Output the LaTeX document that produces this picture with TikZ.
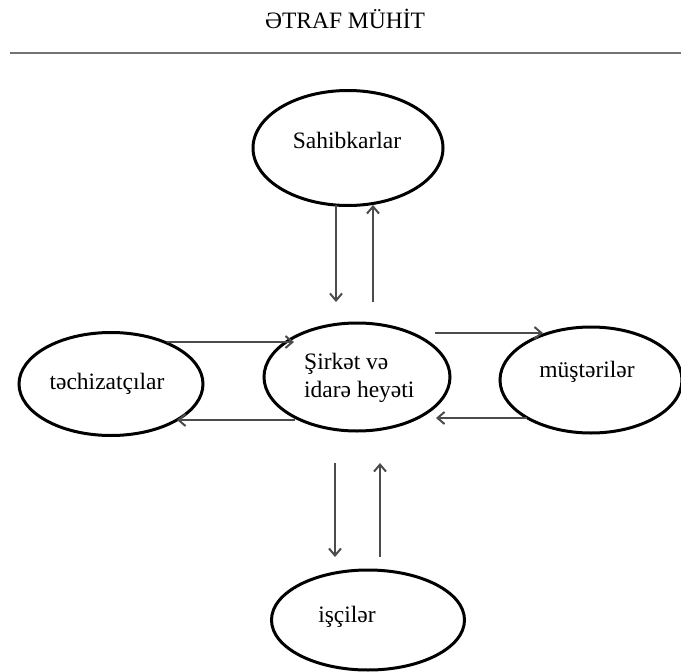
\documentclass[tikz,border=0pt]{standalone}
\usepackage{fontspec}
\setmainfont{Liberation Serif}
\usetikzlibrary{shapes.geometric,arrows.meta}
\begin{document}
\begin{tikzpicture}[x=1pt,y=-1pt,
  ell/.style={draw=black,line width=3pt,ellipse,inner sep=0pt},
  lbl/.style={font=\fontsize{23.5}{27.6}\selectfont,inner sep=0pt,text=black},
  flow/.style={draw=black!70,line width=2pt,-{Straight Barb[length=7pt,width=12pt]}}]
\useasboundingbox[fill=white] (0,0) rectangle (681,672);
% title and rule
\node[lbl] (title) at (345,19) {ƏTRAF MÜHİT};
\coordinate (rl) at (10,53);
\coordinate (rr) at (681,53);
\draw[black!55,line width=2.2pt] (rl) -- (rr);
% ellipses
\node[ell,minimum width=190pt,minimum height=115pt] (S) at (348,148) {};
\node[ell,minimum width=184pt,minimum height=103pt] (T) at (111,384) {};
\node[ell,minimum width=186pt,minimum height=108pt] (C) at (357,377) {};
\node[ell,minimum width=182pt,minimum height=106pt] (M) at (591,380) {};
\node[ell,minimum width=193pt,minimum height=100pt] (I) at (368,620) {};
% texts
\node[lbl] (Stx) at (347,140) {Sahibkarlar};
\node[lbl] (Ttx) at (107,384) {təchizatçılar};
\node[lbl,align=left,anchor=west] (Ctx) at (304,378) {Şirkət və\\idarə heyəti};
\node[lbl] (Mtx) at (587,372) {müştərilər};
\node[lbl] (Itx) at (347,617) {işçilər};
% arrow end points
\coordinate (s1a) at (336,205); \coordinate (s1b) at (336,302);
\coordinate (s2a) at (373,302); \coordinate (s2b) at (373,205);
\coordinate (t1a) at (167,342); \coordinate (t1b) at (294,342);
\coordinate (t2a) at (295,420); \coordinate (t2b) at (177,420);
\coordinate (m1a) at (435,333); \coordinate (m1b) at (543,333);
\coordinate (m2a) at (527,418); \coordinate (m2b) at (436,418);
\coordinate (i1a) at (335,463); \coordinate (i1b) at (335,557);
\coordinate (i2a) at (380,557); \coordinate (i2b) at (380,463);
% arrows
\draw[flow] (s1a) -- (s1b);
\draw[flow] (s2a) -- (s2b);
\draw[flow] (t1a) -- (t1b);
\draw[flow] (t2a) -- (t2b);
\draw[flow] (m1a) -- (m1b);
\draw[flow] (m2a) -- (m2b);
\draw[flow] (i1a) -- (i1b);
\draw[flow] (i2a) -- (i2b);
\end{tikzpicture}
\end{document}
